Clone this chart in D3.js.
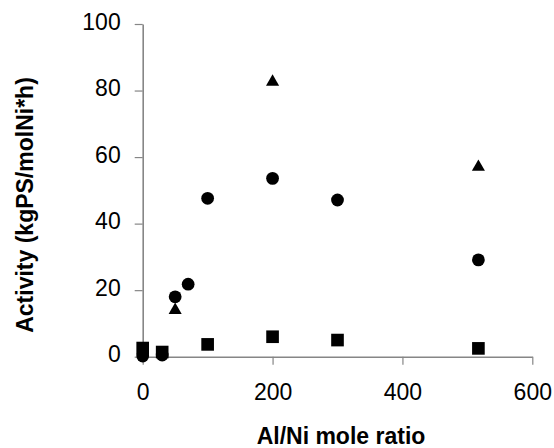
<!DOCTYPE html>
<html>
<head>
<meta charset="utf-8">
<script src="https://cdn.jsdelivr.net/npm/d3@7"></script>
<style>
  body { margin: 0; background: #fff; }
  svg { display: block; font-family: "Liberation Sans", Arial, sans-serif; }
</style>
</head>
<body>
<div id="chart"></div>
<script>
// Al/Ni mole ratio vs activity, three catalyst series
const circleRatio = [0, 30, 50, 70, 100, 200, 300, 517];
const circleActivity = [0.2, 0.5, 18, 21.8, 47.6, 53.6, 47.1, 29.1];

const triangleRatio = [50, 200, 517];
const triangleActivity = [14, 82.6, 57];

const squareRatio = [0, 30, 100, 200, 300, 517];
const squareActivity = [2.6, 1.4, 3.7, 6.0, 5.0, 2.5];

const xTicks = [0, 200, 400, 600];
const yTicks = [0, 20, 40, 60, 80, 100];

const width = 554;
const height = 448;

const x = d3.scaleLinear().domain([0, 600]).range([142.7, 532.3]);
const y = d3.scaleLinear().domain([0, 100]).range([356.7, 24]);

const svg = d3.select("#chart").append("svg")
    .attr("width", width)
    .attr("height", height);

const xAxis = svg.append("g")
    .attr("transform", `translate(0,${y(0)})`)
    .call(d3.axisBottom(x).tickValues(xTicks).tickSize(8).tickSizeOuter(0).tickPadding(19));

const yAxis = svg.append("g")
    .attr("transform", `translate(${x(0)},0)`)
    .call(d3.axisLeft(y).tickValues(yTicks).tickSize(8).tickSizeOuter(0).tickPadding(14));

[xAxis, yAxis].forEach(g => {
    g.select(".domain").attr("stroke", "#868686").attr("stroke-width", 1.6);
    g.selectAll(".tick line").attr("stroke", "#868686").attr("stroke-width", 1.2);
    g.selectAll(".tick text")
        .attr("fill", "#000")
        .attr("font-size", "23px")
        .attr("font-family", "Liberation Sans, Arial, sans-serif");
});
yAxis.selectAll(".tick text").attr("dy", "0.22em");

const toPoints = (xs, ys) => xs.map((v, i) => ({ ratio: v, activity: ys[i] }));

function drawSeries(data, type, size) {
    svg.append("g")
        .selectAll("path")
        .data(data)
        .join("path")
        .attr("transform", d => `translate(${x(d.ratio)},${y(d.activity)})`)
        .attr("d", d3.symbol().type(type).size(size))
        .attr("fill", "#000");
}

drawSeries(toPoints(circleRatio, circleActivity), d3.symbolCircle, 128);
drawSeries(toPoints(triangleRatio, triangleActivity), d3.symbolTriangle, 74);
drawSeries(toPoints(squareRatio, squareActivity), d3.symbolSquare, 160);

// axis titles
svg.append("text")
    .attr("x", 341)
    .attr("y", 444)
    .attr("text-anchor", "middle")
    .attr("font-size", "23px")
    .attr("font-weight", "bold")
    .text("Al/Ni mole ratio");

svg.append("text")
    .attr("transform", "translate(33,205) rotate(-90)")
    .attr("text-anchor", "middle")
    .attr("font-size", "23px")
    .attr("font-weight", "bold")
    .text("Activity (kgPS/molNi*h)");
</script>
</body>
</html>
